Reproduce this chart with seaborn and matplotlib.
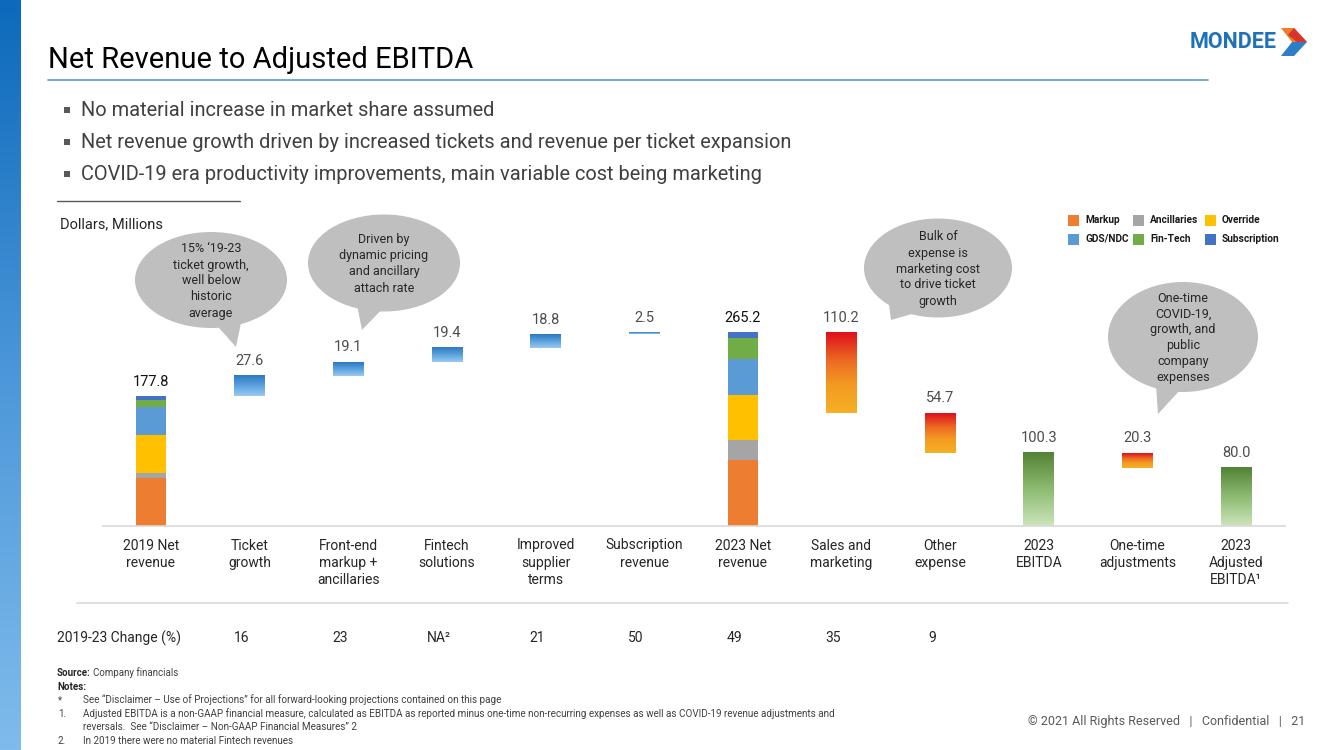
import numpy as np
import pandas as pd
import matplotlib.pyplot as plt
import seaborn as sns
from matplotlib.colors import LinearSegmentedColormap
from matplotlib.patches import Ellipse, Polygon, Rectangle
from matplotlib.transforms import blended_transform_factory

# === DATA ===
STEPS = ["2019 Net\nrevenue", "Ticket\ngrowth", "Front-end\nmarkup +\nancillaries", "Fintech\nsolutions",
         "Improved\nsupplier\nterms", "Subscription\nrevenue", "2023 Net\nrevenue", "Sales and\nmarketing",
         "Other\nexpense", "2023\nEBITDA", "One-time\nadjustments", "2023\nAdjusted\nEBITDA\u00b9"]
VALUES = [177.8, 27.6, 19.1, 19.4, 18.8, 2.5, 265.2, 110.2, 54.7, 100.3, 20.3, 80.0]
KINDS = ["total", "up", "up", "up", "up", "up", "total", "down", "down", "total", "down", "total"]
CHANGE = ["", "16", "23", "NA\u00b2", "21", "50", "49", "35", "9", "", "", ""]

SEGMENTS = ["Markup", "Ancillaries", "Override", "GDS/NDC", "Fin-Tech", "Subscription"]
SEG_2019 = [65.5, 6.5, 52.5, 38.0, 10.0, 5.3]
SEG_2023 = [90.3, 27.4, 61.6, 48.9, 28.8, 8.2]
SEG_COLORS = ["#ED7D31", "#A5A5A5", "#FFC000", "#5B9BD5", "#70AD47", "#4472C4"]

BULLETS = ["No material increase in market share assumed",
           "Net revenue growth driven by increased tickets and revenue per ticket expansion",
           "COVID-19 era productivity improvements, main variable cost being marketing"]

CALLOUTS = ["15% \u201819-23\nticket growth,\nwell below\nhistoric\naverage",
            "Driven by\ndynamic pricing\nand ancillary\nattach rate",
            "Bulk of\nexpense is\nmarketing cost\nto drive ticket\ngrowth",
            "One-time\nCOVID-19,\ngrowth, and\npublic\ncompany\nexpenses"]

NOTES = [("*", "See \u201cDisclaimer \u2013 Use of Projections\u201d for all forward-looking projections contained on this page"),
         ("1.", "Adjusted EBITDA is a non-GAAP financial measure, calculated as EBITDA as reported minus one-time "
                "non-recurring expenses as well as COVID-19 revenue adjustments and"),
         ("", "reversals.  See \u201cDisclaimer \u2013 Non-GAAP Financial Measures\u201d 2"),
         ("2.", "In 2019 there were no material Fintech revenues")]

# waterfall bottoms
bottoms = []
level = 0.0
for v, k in zip(VALUES, KINDS):
    if k == "total":
        bottoms.append(0.0)
        level = v
    elif k == "up":
        bottoms.append(level)
        level += v
    else:
        level -= v
        bottoms.append(level)

df = pd.DataFrame({"step": STEPS, "value": VALUES, "bottom": bottoms, "kind": KINDS})

sns.set_theme(style="white")
plt.rcParams["font.family"] = ["Roboto", "DejaVu Sans"]

fig = plt.figure(figsize=(13.33, 7.5), dpi=100)
W, H = 1333, 750

# chart axes placed in pixel terms: bar 0 at x=151, bar 11 at x=1236, baseline y=526
XL, XR = -0.49, 11.5
pxu = (1236 - 151) / 11
left_px = 151 + XL * pxu
right_px = 1236 + (XR - 11) * pxu
YMAX = 300
ypx = 0.73
ax = fig.add_axes([left_px / W, (H - 526) / H, (right_px - left_px) / W, YMAX * ypx / H])

sns.barplot(data=df, x="step", y="value", bottom=df["bottom"].to_numpy(), color="white",
            width=0.31, ax=ax, zorder=1)
bars = list(ax.patches)[:len(STEPS)]

blue = LinearSegmentedColormap.from_list("b", ["#9CC9EF", "#5AA2DE", "#2C78C0"])
red = LinearSegmentedColormap.from_list("r", [(0, "#F5B124"), (0.35, "#F39A22"), (0.65, "#EC6A22"), (1, "#DF0F1C")])
green = LinearSegmentedColormap.from_list("g", ["#CBE5BB", "#8DBB72", "#538234"])
grad = np.linspace(0, 1, 256).reshape(-1, 1)

for i, p in enumerate(bars):
    x0, w = p.get_x(), p.get_width()
    y0, h = p.get_y(), p.get_height()
    kind = KINDS[i]
    if kind == "total" and i in (0, 6):
        segs = SEG_2019 if i == 0 else SEG_2023
        ax.bar([i] * len(segs), segs, bottom=np.concatenate([[0], np.cumsum(segs)[:-1]]),
               width=w, color=SEG_COLORS, zorder=2, linewidth=0)
    else:
        cmap = blue if kind == "up" else (red if kind == "down" else green)
        ax.imshow(grad, extent=[x0, x0 + w, y0, y0 + h], origin="lower", aspect="auto",
                  cmap=cmap, zorder=2, interpolation="bilinear")
    txt_color = "#111111" if i in (0, 6) else "#4D4D4D"
    ax.annotate(f"{VALUES[i]:.1f}", (i, y0 + h), xytext=(0, 5.5), textcoords="offset points",
                ha="center", va="bottom", fontsize=10.5, color=txt_color)

ax.set_xlim(XL, XR)
ax.set_ylim(0, YMAX)
ax.set_yticks([])
ax.set_xlabel("")
ax.set_ylabel("")
ax.set_xticks(range(len(STEPS)))
ax.set_xticklabels(STEPS, fontsize=10, color="#262626")
for t in ax.get_xticklabels():
    t.set_linespacing(1.3)
ax.tick_params(axis="x", length=0, pad=9)
sns.despine(ax=ax, left=True)
ax.spines["bottom"].set_color("#D9D9D9")
ax.spines["bottom"].set_linewidth(1.2)
ax.patch.set_alpha(0)

# overlay for slide decoration, in pixel coordinates
ov = fig.add_axes([0, 0, 1, 1])
ov.set_xlim(0, W)
ov.set_ylim(H, 0)
ov.axis("off")

stripe = LinearSegmentedColormap.from_list("s", ["#0C69BB", "#4C97D9", "#80BCEB"])
ov.imshow(grad, extent=[0, 21, H, 0], origin="upper", aspect="auto", cmap=stripe, zorder=0)
ov.set_xlim(0, W)
ov.set_ylim(H, 0)

ov.text(48, 60, "Net Revenue to Adjusted EBITDA", fontsize=21, color="#000000", va="center", ha="left")
ov.plot([48, 1208], [80, 80], color="#5B9BD5", lw=1.2)

# logo
ov.text(1190, 42, "MONDEE", fontsize=15.5, fontweight="bold", color="#1F72BA", va="center", ha="left")
ov.add_patch(Polygon([(1281, 28), (1294, 28), (1307, 42), (1292, 42)], closed=True, color="#EF7B2B", lw=0))
ov.add_patch(Polygon([(1288, 35), (1294, 28), (1307, 42), (1297, 42)], closed=True, color="#D9342A", lw=0))
ov.add_patch(Polygon([(1292, 42), (1307, 42), (1294, 56), (1281, 56)], closed=True, color="#2E7EC7", lw=0))

for k, b in enumerate(BULLETS):
    y = 110 + 32 * k
    ov.add_patch(Rectangle((64, y - 3.5), 6, 6, color="#595959", lw=0))
    ov.text(81, y, b, fontsize=14.4, color="#404040", va="center", ha="left")

ov.plot([57, 240], [201, 201], color="#595959", lw=1)
ov.text(60, 224, "Dollars, Millions", fontsize=10.5, color="#262626", va="center", ha="left")

# legend
leg_pos = [(1068, 220), (1133, 220), (1205, 220), (1068, 239), (1133, 239), (1205, 239)]
for (lx, ly), j in zip(leg_pos, range(len(SEGMENTS))):
    ov.add_patch(Rectangle((lx, ly - 5.5), 11, 11, color=SEG_COLORS[j], lw=0))
    ov.text(lx + 17, ly, SEGMENTS[j], fontsize=7.3, fontweight="bold", color="#1A1A1A", va="center", ha="left")

# callouts
bubbles = [((211, 280), 152, 96, [(212, 320), (242, 318), (236, 347)]),
           ((384, 263), 152, 97, [(356, 300), (386, 305), (362, 330)]),
           ((938, 268), 148, 99, [(888, 296), (922, 311), (891, 320)]),
           ((1183, 337), 150, 110, [(1156, 385), (1181, 389), (1158, 414)])]
for (c, bw, bh, tail), txt in zip(bubbles, CALLOUTS):
    ov.add_patch(Ellipse(c, bw, bh, color="#BFBFBF", lw=0, zorder=3))
    ov.add_patch(Polygon(tail, closed=True, color="#BFBFBF", lw=0, zorder=3))
    ov.text(c[0], c[1] + 1, txt, fontsize=9, color="#262626", ha="center", va="center",
            linespacing=1.3, zorder=4)

# table line and change row
ov.plot([77, 1288], [603, 603], color="#D9D9D9", lw=1.2)
ov.text(57, 638, "2019-23 Change (%)", fontsize=10, color="#262626", va="center", ha="left")
tr = blended_transform_factory(ax.transData, ov.transData)
for i, c in enumerate(CHANGE):
    if c:
        ov.annotate(c, xy=(i, 638), xycoords=tr, xytext=(-8, 0), textcoords="offset pixels",
                    fontsize=10, color="#262626", va="center", ha="center")

# notes
ov.text(57, 673, "Source:", fontsize=7, fontweight="bold", color="#262626", va="center", ha="left")
ov.text(93, 673, "Company financials", fontsize=7, color="#404040", va="center", ha="left")
ov.text(57, 687, "Notes:", fontsize=7, fontweight="bold", color="#262626", va="center", ha="left")
for k, (mark, note) in enumerate(NOTES):
    y = 700 + 13.6 * k
    if mark:
        ov.text(58, y, mark, fontsize=7, color="#404040", va="center", ha="left")
    ov.text(83, y, note, fontsize=7.1, color="#404040", va="center", ha="left")

ov.text(1305, 722, "\u00a9 2021 All Rights Reserved   |   Confidential   |   21", fontsize=9,
        color="#595959", va="center", ha="right")

fig.savefig("out.png", dpi=100)
